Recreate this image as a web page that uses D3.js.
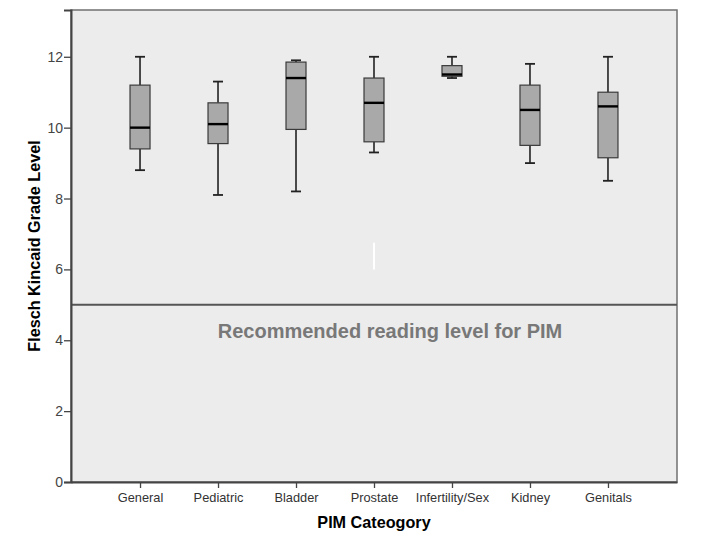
<!DOCTYPE html>
<html><head><meta charset="utf-8">
<script src="https://cdn.jsdelivr.net/npm/d3@7"></script>
<style>body{margin:0;background:#fff}svg{display:block}</style>
</head><body>
<svg id="c" width="704" height="544"></svg>
<script>
const categories = ["General","Pediatric","Bladder","Prostate","Infertility/Sex","Kidney","Genitals"];
const whiskerLow  = [8.8, 8.1, 8.2, 9.3, 11.4, 9.0, 8.5];
const q1          = [9.4, 9.55, 9.95, 9.6, 11.45, 9.5, 9.15];
const median      = [10.0, 10.1, 11.4, 10.7, 11.5, 10.5, 10.6];
const q3          = [11.2, 10.7, 11.85, 11.4, 11.75, 11.2, 11.0];
const whiskerHigh = [12.0, 11.3, 11.9, 12.0, 12.0, 11.8, 12.0];
const yTicks = [0, 2, 4, 6, 8, 10, 12];
const refLevel = 5;
const refLabel = "Recommended reading level for PIM";

const svg = d3.select("#c");
const L = 71, R = 677, T = 10, B = 482;
const x = d3.scalePoint().domain(categories).range([L, R]).padding(0.885);
const y = d3.scaleLinear().domain([0, 13.32]).range([B, T]);

svg.append("rect").attr("x", L).attr("y", T).attr("width", R - L).attr("height", B - T)
  .attr("fill", "#ececec").attr("stroke", "#707070").attr("stroke-width", 1.5);

// stray white mark
svg.append("line").attr("x1", x("Prostate")).attr("x2", x("Prostate"))
  .attr("y1", y(6.0)).attr("y2", y(6.75)).attr("stroke", "#fff").attr("stroke-width", 2);

// reference line
svg.append("line").attr("x1", L).attr("x2", R).attr("y1", y(refLevel)).attr("y2", y(refLevel))
  .attr("stroke", "#555").attr("stroke-width", 2);
svg.append("text").attr("x", 390).attr("y", y(refLevel) + 33).attr("text-anchor", "middle")
  .attr("font-family", "Liberation Sans, Arial, sans-serif").attr("font-weight", "bold")
  .attr("font-size", 20).attr("fill", "#787878").text(refLabel);

// boxes
const bw = 20, cw = 10;
categories.forEach((c, i) => {
  const cx = x(c);
  const g = svg.append("g");
  g.append("line").attr("x1", cx).attr("x2", cx).attr("y1", y(whiskerHigh[i])).attr("y2", y(q3[i]))
    .attr("stroke", "#222").attr("stroke-width", 1.6);
  g.append("line").attr("x1", cx).attr("x2", cx).attr("y1", y(q1[i])).attr("y2", y(whiskerLow[i]))
    .attr("stroke", "#222").attr("stroke-width", 1.6);
  [whiskerHigh[i], whiskerLow[i]].forEach(v => {
    g.append("line").attr("x1", cx - cw / 2).attr("x2", cx + cw / 2).attr("y1", y(v)).attr("y2", y(v))
      .attr("stroke", "#222").attr("stroke-width", 1.8);
  });
  g.append("rect").attr("x", cx - bw / 2).attr("y", y(q3[i])).attr("width", bw)
    .attr("height", y(q1[i]) - y(q3[i])).attr("fill", "#a9a9a9").attr("stroke", "#3a3a3a").attr("stroke-width", 1.2);
  g.append("line").attr("x1", cx - bw / 2).attr("x2", cx + bw / 2).attr("y1", y(median[i])).attr("y2", y(median[i]))
    .attr("stroke", "#000").attr("stroke-width", 2.4);
});

// axes
const font = "Liberation Sans, Arial, sans-serif";
const ya = svg.append("g").attr("transform", `translate(${L},0)`)
  .call(d3.axisLeft(y).tickValues(yTicks).tickFormat(d3.format("d")).tickSize(7).tickPadding(1));
ya.select(".domain").attr("stroke", "#444").attr("stroke-width", 2);
ya.selectAll(".tick line").attr("stroke", "#444").attr("stroke-width", 1.3);
ya.selectAll("text").attr("font-family", font).attr("font-size", 14).attr("fill", "#444");

const xa = svg.append("g").attr("transform", `translate(0,${B})`)
  .call(d3.axisBottom(x).tickSize(6).tickSizeOuter(0).tickPadding(5));
xa.select(".domain").attr("stroke", "#444").attr("stroke-width", 2);
xa.selectAll(".tick line").attr("stroke", "#444").attr("stroke-width", 1.3);
xa.selectAll("text").attr("font-family", font).attr("font-size", 12.8).attr("fill", "#333");

svg.append("text").attr("transform", `translate(40,${(T + B) / 2}) rotate(-90)`).attr("text-anchor", "middle")
  .attr("font-family", font).attr("font-weight", "bold").attr("font-size", 16.2).attr("fill", "#000")
  .text("Flesch Kincaid Grade Level");
svg.append("text").attr("x", (L + R) / 2).attr("y", 528).attr("text-anchor", "middle")
  .attr("font-family", font).attr("font-weight", "bold").attr("font-size", 16.2).attr("fill", "#000")
  .text("PIM Cateogory");
</script>
</body></html>
